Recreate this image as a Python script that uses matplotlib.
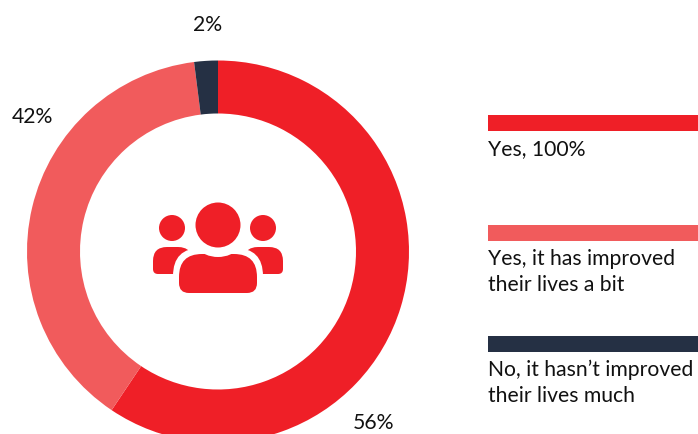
import matplotlib
matplotlib.use("Agg")
import matplotlib.pyplot as plt
from matplotlib.patches import Circle, PathPatch, Rectangle
from matplotlib.path import Path

plt.rcParams['font.family'] = ['Lato', 'DejaVu Sans']

W, H = 698, 435

# slice sizes as drawn in the picture (they differ a bit from the printed labels)
shares = [59.4, 38.6, 2.0]
share_labels = ['56%', '42%', '2%']
colours = ['#ef1f27', '#f15b5c', '#253044']
legend_labels = ['Yes, 100%', 'Yes, it has improved\ntheir lives a bit',
                 "No, it hasn\u2019t improved\ntheir lives much"]

TEXT = '#111111'
RED = colours[0]

fig = plt.figure(figsize=(W / 100, H / 100), dpi=100)
ax = fig.add_axes([0, 0, 1, 1])


# y of the picture is counted from the top
def py(y):
    return H - y


def round_box(x0, x1, top, bottom, r_top, r_bottom, colour, z):
    # box with different corner radii on top and bottom
    y0, y1 = py(bottom), py(top)
    verts = [(x0 + r_bottom, y0), (x1 - r_bottom, y0), (x1, y0), (x1, y0 + r_bottom),
             (x1, y1 - r_top), (x1, y1), (x1 - r_top, y1),
             (x0 + r_top, y1), (x0, y1), (x0, y1 - r_top),
             (x0, y0 + r_bottom), (x0, y0), (x0 + r_bottom, y0), (x0 + r_bottom, y0)]
    codes = [Path.MOVETO, Path.LINETO, Path.CURVE3, Path.CURVE3,
             Path.LINETO, Path.CURVE3, Path.CURVE3,
             Path.LINETO, Path.CURVE3, Path.CURVE3,
             Path.LINETO, Path.CURVE3, Path.CURVE3, Path.CLOSEPOLY]
    ax.add_patch(PathPatch(Path(verts, codes), facecolor=colour, lw=0, zorder=z))


# donut, the bottom edge of the canvas cuts it off
ax.pie(shares, colors=colours, startangle=90, counterclock=False,
       center=(218, py(252.5)), radius=191, frame=True,
       wedgeprops=dict(width=53, linewidth=0))
ax.set_xlim(0, W)
ax.set_ylim(0, H)
ax.set_aspect('equal')
ax.axis('off')

ax.text(208, py(25), share_labels[2], fontsize=15.2, ha='center', va='center', color=TEXT)
ax.text(32, py(117), share_labels[1], fontsize=15.2, ha='center', va='center', color=TEXT)
ax.text(374, py(423), share_labels[0], fontsize=15.2, ha='center', va='center', color=TEXT)

# people icon in the middle
ax.add_patch(Circle((172, py(229)), 13, color=RED, lw=0, zorder=3))
ax.add_patch(Circle((263, py(229)), 13, color=RED, lw=0, zorder=3))
round_box(153, 192, 248, 275, 14, 5, RED, 3)
round_box(244, 283, 248, 275, 14, 5, RED, 3)
round_box(173, 263, 249, 300, 28, 10, 'white', 4)
round_box(179, 257, 255, 294, 23, 10, RED, 5)
ax.add_patch(Circle((218, py(226)), 32, color='white', lw=0, zorder=6))
ax.add_patch(Circle((218, py(226)), 22.5, color=RED, lw=0, zorder=7))

# legend
bar_tops = [116, 226, 337]
text_centres = [149, 259, 370]
for top, txt_y, c, lab in zip(bar_tops, text_centres, colours, legend_labels):
    ax.add_patch(Rectangle((488, py(top + 16)), 210, 16, color=c, lw=0))
    for i, line in enumerate(lab.split('\n')):
        ax.text(488, py(txt_y + i * 26), line, fontsize=15.2, ha='left', va='center', color=TEXT)

fig.savefig('out.png', dpi=100)
